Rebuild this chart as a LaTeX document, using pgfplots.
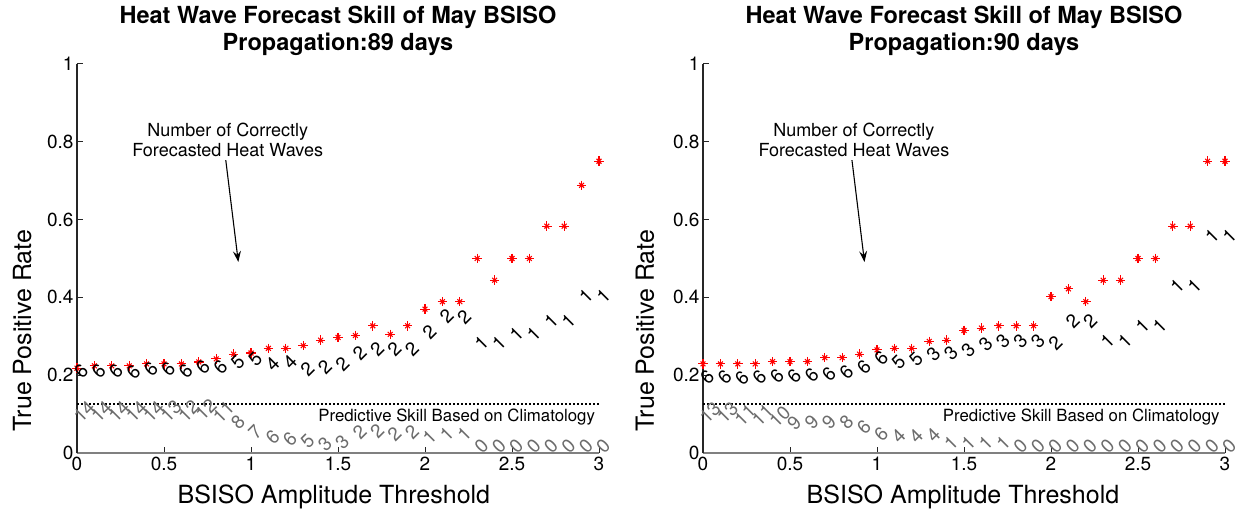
\documentclass[border=0pt]{standalone}
\usepackage{fontspec}
\setmainfont{TeX Gyre Heros}
\usepackage{pgfplots}
\usepackage{pgfplotstable}
\pgfplotsset{compat=1.18}
\usetikzlibrary{arrows.meta}
\definecolor{numgray}{RGB}{108,108,108}

% ---------- left panel (89 days) ----------
\pgfplotstableread{
x tpr
0.0 0.218
0.1 0.224
0.2 0.224
0.3 0.224
0.4 0.229
0.5 0.229
0.6 0.229
0.7 0.234
0.8 0.242
0.9 0.254
1.0 0.257
1.1 0.269
1.2 0.269
1.3 0.276
1.4 0.290
1.5 0.297
1.6 0.302
1.7 0.327
1.8 0.305
1.9 0.327
2.0 0.370
2.1 0.389
2.2 0.389
2.3 0.500
2.4 0.444
2.5 0.500
2.6 0.500
2.7 0.583
2.8 0.583
2.9 0.688
3.0 0.750
}\tprA

\pgfplotstableread{
x y lab
0.0 0.200 6
0.1 0.200 6
0.2 0.200 6
0.3 0.198 6
0.4 0.206 6
0.5 0.205 6
0.6 0.200 6
0.7 0.209 6
0.8 0.209 6
0.9 0.222 5
1.0 0.230 5
1.1 0.218 4
1.2 0.222 4
1.3 0.205 2
1.4 0.209 2
1.5 0.218 2
1.6 0.245 2
1.7 0.256 2
1.8 0.256 2
1.9 0.256 2
2.0 0.299 2
2.1 0.342 2
2.2 0.338 2
2.3 0.273 1
2.4 0.273 1
2.5 0.295 1
2.6 0.295 1
2.7 0.329 1
2.8 0.329 1
2.9 0.393 1
3.0 0.393 1
}\blkA

\pgfplotstableread{
x y lab
0.0 0.088 14
0.1 0.088 14
0.2 0.088 14
0.3 0.088 14
0.4 0.088 14
0.5 0.090 13
0.6 0.090 12
0.7 0.093 12
0.8 0.087 11
}\gryAtwo

\pgfplotstableread{
x y lab
0.9 0.068 8
1.0 0.042 7
1.1 0.029 6
1.2 0.026 6
1.3 0.020 5
1.4 0.013 3
1.5 0.016 3
1.6 0.042 2
1.7 0.046 2
1.8 0.038 2
1.9 0.042 2
2.0 0.029 1
2.1 0.038 1
2.2 0.038 1
2.3 0.008 0
2.4 0.008 0
2.5 0.008 0
2.6 0.008 0
2.7 0.008 0
2.8 0.008 0
2.9 0.008 0
3.0 0.008 0
}\gryAone

% ---------- right panel (90 days) ----------
\pgfplotstableread{
x tpr
0.0 0.229
0.1 0.229
0.2 0.229
0.3 0.229
0.4 0.235
0.5 0.235
0.6 0.235
0.7 0.245
0.8 0.245
0.9 0.254
1.0 0.265
1.1 0.269
1.2 0.269
1.3 0.287
1.4 0.290
1.5 0.315
1.6 0.321
1.7 0.327
1.8 0.327
1.9 0.327
2.0 0.402
2.1 0.422
2.2 0.389
2.3 0.444
2.4 0.444
2.5 0.500
2.6 0.500
2.7 0.583
2.8 0.583
2.9 0.750
3.0 0.750
}\tprB

\pgfplotstableread{
x y lab
0.0 0.183 6
0.1 0.183 6
0.2 0.181 6
0.3 0.183 6
0.4 0.188 6
0.5 0.188 6
0.6 0.189 6
0.7 0.192 6
0.8 0.198 6
0.9 0.209 6
1.0 0.232 6
1.1 0.222 5
1.2 0.230 5
1.3 0.243 3
1.4 0.246 3
1.5 0.254 3
1.6 0.268 3
1.7 0.276 3
1.8 0.278 3
1.9 0.278 3
2.0 0.273 2
2.1 0.329 2
2.2 0.329 2
2.3 0.278 1
2.4 0.278 1
2.5 0.316 1
2.6 0.316 1
2.7 0.419 1
2.8 0.419 1
2.9 0.548 1
3.0 0.548 1
}\blkB

\pgfplotstableread{
x y lab
0.0 0.085 13
0.1 0.085 13
0.2 0.080 11
0.3 0.080 11
0.4 0.075 10
}\gryBtwo

\pgfplotstableread{
x y lab
0.5 0.066 9
0.6 0.068 9
0.7 0.068 9
0.8 0.068 8
0.9 0.055 6
1.0 0.038 6
1.1 0.033 4
1.2 0.033 4
1.3 0.036 4
1.4 0.016 1
1.5 0.016 1
1.6 0.016 1
1.7 0.016 1
1.8 0.008 0
1.9 0.008 0
2.0 0.008 0
2.1 0.008 0
2.2 0.008 0
2.3 0.008 0
2.4 0.008 0
2.5 0.008 0
2.6 0.008 0
2.7 0.008 0
2.8 0.008 0
2.9 0.008 0
3.0 0.008 0
}\gryBone

\pgfplotsset{
  panel/.style={
    scale only axis, width=522pt, height=389pt,
    xmin=0, xmax=3, ymin=0, ymax=1,
    xtick={0,0.5,1,1.5,2,2.5,3}, ytick={0,0.2,0.4,0.6,0.8,1},
    axis x line=bottom, axis y line=left,
    x axis line style={-, black!50, line width=1.6pt},
    y axis line style={-, black!85, line width=1.1pt},
    tick align=inside, major tick length=6pt,
    major tick style={black!85, line width=1pt},
    tick label style={font=\fontsize{19}{21}\selectfont},
    /pgf/number format/assume math mode=true,
    clip=false,
    anchor=south west,
    label style={font=\fontsize{25}{27}\selectfont},
    xlabel={BSISO Amplitude Threshold},
    ylabel={True Positive Rate},
    title style={font=\bfseries\fontsize{23.5}{27}\selectfont, align=center, anchor=center},
  },
  lab/.style={draw=none, mark=none, nodes near coords, point meta=explicit symbolic,
     nodes near coords align={anchor=center},
     every node near coord/.append style={rotate=45, inner sep=0pt,
        font=\fontsize{19}{19}\selectfont, xshift=#1}},
  starA/.style={only marks, mark=+, mark size=4.8pt, red, line width=1.1pt},
  starB/.style={only marks, mark=x, mark size=3.4pt, red, line width=1.1pt},
}

\begin{document}
\begin{tikzpicture}
\useasboundingbox (0,0) rectangle (1238pt,514pt);

\begin{axis}[panel, at={(77pt,61pt)},
  title={Heat Wave Forecast Skill of May BSISO\\Propagation:89 days},
  title style={at={(axis description cs:0.5,1.069)}},
  xlabel style={at={(axis description cs:0.492,-0.113)}, anchor=center},
  ylabel style={at={(axis description cs:-0.105,0.315)}, anchor=center},
]
\addplot[black, line width=2pt, dash pattern=on 2pt off 2pt] coordinates {(0,0.127) (3,0.127)};
\addplot[starA] table[x=x,y=tpr]{\tprA};
\addplot[starB] table[x=x,y=tpr]{\tprA};
\addplot[lab=6pt, every node near coord/.append style={text=black}] table[x=x,y=y,meta=lab]{\blkA};
\addplot[lab=10pt, every node near coord/.append style={text=numgray}] table[x=x,y=y,meta=lab]{\gryAtwo};
\addplot[lab=6pt, every node near coord/.append style={text=numgray}] table[x=x,y=y,meta=lab]{\gryAone};
\node[anchor=east, font=\fontsize{16.8}{18}\selectfont, inner sep=0pt] at (axis cs:2.978,0.093) {Predictive Skill Based on Climatology};
\node[align=center, font=\fontsize{18}{20}\selectfont] at (axis cs:0.866,0.805) {Number of Correctly\\Forecasted Heat Waves};
\draw[line width=1.1pt, -{Stealth[length=11pt, width=8pt, inset=4pt]}] (axis cs:0.855,0.753) -- (axis cs:0.927,0.491);
\end{axis}

\begin{axis}[panel, at={(703pt,61pt)},
  title={Heat Wave Forecast Skill of May BSISO\\Propagation:90 days},
  title style={at={(axis description cs:0.5,1.069)}},
  xlabel style={at={(axis description cs:0.498,-0.113)}, anchor=center},
  ylabel style={at={(axis description cs:-0.111,0.315)}, anchor=center},
]
\addplot[black, line width=2pt, dash pattern=on 2pt off 2pt] coordinates {(0,0.127) (3,0.127)};
\addplot[starA] table[x=x,y=tpr]{\tprB};
\addplot[starB] table[x=x,y=tpr]{\tprB};
\addplot[lab=6pt, every node near coord/.append style={text=black}] table[x=x,y=y,meta=lab]{\blkB};
\addplot[lab=10pt, every node near coord/.append style={text=numgray}] table[x=x,y=y,meta=lab]{\gryBtwo};
\addplot[lab=6pt, every node near coord/.append style={text=numgray}] table[x=x,y=y,meta=lab]{\gryBone};
\node[anchor=east, font=\fontsize{16.8}{18}\selectfont, inner sep=0pt] at (axis cs:2.97,0.093) {Predictive Skill Based on Climatology};
\node[align=center, font=\fontsize{18}{20}\selectfont] at (axis cs:0.867,0.805) {Number of Correctly\\Forecasted Heat Waves};
\draw[line width=1.1pt, -{Stealth[length=11pt, width=8pt, inset=4pt]}] (axis cs:0.856,0.753) -- (axis cs:0.928,0.491);
\end{axis}
\end{tikzpicture}
\end{document}
